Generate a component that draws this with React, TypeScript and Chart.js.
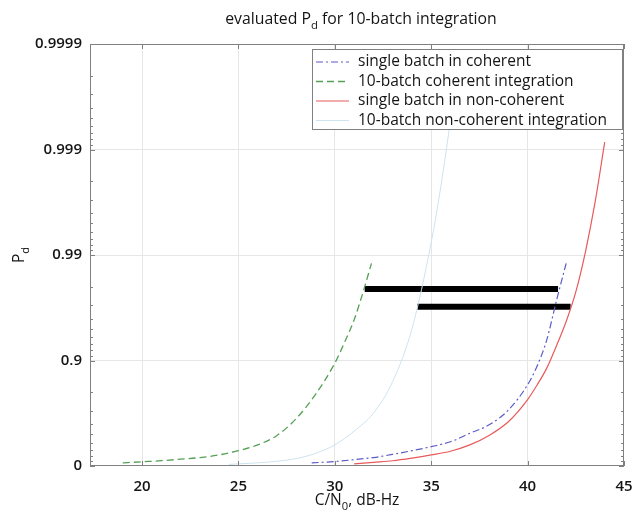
import React, { useEffect, useRef } from 'react';
import { Chart, registerables } from 'chart.js';

Chart.register(...registerables);

// ---- axis ticks ----
const xTicks = [20, 25, 30, 35, 40, 45];
const xMin = 17.3;
const xMax = 45;
const yTickValues = [0, 0.9, 0.99, 0.999, 0.9999];
const yTickLabels = ['0', '0.9', '0.99', '0.999', '0.9999'];

// ---- series (C/N0 in dB-Hz, Pd) ----
const seriesNames = [
  'single batch in coherent',
  '10-batch coherent integration',
  'single batch in non-coherent',
  '10-batch non-coherent integration',
];

const coh1X = [28.8, 30, 31, 32, 33, 34, 35, 36, 37, 38, 39, 40, 40.5, 41, 41.5, 42];
const coh1Pd = [0.0667, 0.0922, 0.129, 0.1682, 0.2238, 0.2839, 0.3439, 0.4112, 0.5102, 0.5926, 0.7049, 0.8302, 0.8878, 0.9369, 0.9731, 0.988];

const coh10X = [19, 20, 21, 22, 23, 24, 25, 26, 27, 28, 29, 30, 30.5, 31, 31.5, 31.9];
const coh10Pd = [0.067, 0.088, 0.109, 0.139, 0.168, 0.215, 0.284, 0.369, 0.487, 0.645, 0.791, 0.894, 0.9324, 0.9588, 0.9786, 0.988];

const nc1X = [31, 32, 33, 34, 35, 36, 37, 38, 39, 40, 40.5, 41, 41.5, 42, 42.5, 43, 43.5, 44];
const nc1Pd = [0.045, 0.0775, 0.1087, 0.1586, 0.2147, 0.2756, 0.369, 0.4871, 0.6198, 0.7656, 0.8302, 0.8825, 0.9276, 0.9573, 0.9776, 0.99067, 0.99684, 0.99915];

const nc10X = [24.5, 25, 26, 27, 28, 29, 30, 31, 32, 33, 34, 35, 35.5, 35.9, 36.3];
const nc10Pd = [0.0339, 0.045, 0.0667, 0.0984, 0.1489, 0.2414, 0.369, 0.5323, 0.6838, 0.8415, 0.9499, 0.99241, 0.99776, 0.99929, 0.9998];

// ---- gain bars ----
const barPd = [0.979, 0.969];
const barFromX = [31.55, 34.28];
const barToX = [41.58, 42.23];

const FONT = '"Open Sans", "Liberation Sans", sans-serif';
const TEXT = '#151515';

const toQ = (p: number) => -Math.log10(1 - p);
const pts = (xs: number[], ps: number[]) => xs.map((x, i) => ({ x, y: toQ(ps[i]) }));

function drawSubText(
  ctx: CanvasRenderingContext2D,
  parts: [string, boolean][],
  cx: number,
  baseY: number,
  size: number,
  weight = 'normal'
) {
  const subSize = size * 0.72;
  let total = 0;
  for (const [t, sub] of parts) {
    ctx.font = `${weight} ${sub ? subSize : size}px ${FONT}`;
    total += ctx.measureText(t).width;
  }
  let x = cx - total / 2;
  ctx.textAlign = 'left';
  ctx.textBaseline = 'alphabetic';
  for (const [t, sub] of parts) {
    ctx.font = `${weight} ${sub ? subSize : size}px ${FONT}`;
    ctx.fillText(t, x, baseY + (sub ? size * 0.33 : 0));
    x += ctx.measureText(t).width;
  }
}

const framePlugin = {
  id: 'frame',
  afterDatasetsDraw(chart: any) {
    const { ctx, chartArea } = chart;
    const { left, right, top, bottom } = chartArea;
    const xs = chart.scales.x;
    const ys = chart.scales.y;
    ctx.save();
    ctx.strokeStyle = '#808080';
    ctx.lineWidth = 1;
    ctx.strokeRect(left + 0.5, top + 0.5, right - left - 1, bottom - top - 1);
    ctx.beginPath();
    for (const v of xTicks) {
      const p = Math.round(xs.getPixelForValue(v)) + 0.5;
      ctx.moveTo(p, bottom);
      ctx.lineTo(p, bottom - 5);
      ctx.moveTo(p, top);
      ctx.lineTo(p, top + 5);
    }
    const qMajor = yTickValues.map(toQ);
    for (let d = 0; d < qMajor.length; d++) {
      const p = Math.round(ys.getPixelForValue(qMajor[d])) + 0.5;
      ctx.moveTo(left, p);
      ctx.lineTo(left + 5, p);
      ctx.moveTo(right, p);
      ctx.lineTo(right - 5, p);
      if (d < qMajor.length - 1) {
        for (let k = 1; k <= 8; k++) {
          const q = qMajor[d] - Math.log10(1 - k / 10);
          const pm = Math.round(ys.getPixelForValue(q)) + 0.5;
          ctx.moveTo(left, pm);
          ctx.lineTo(left + 3, pm);
          ctx.moveTo(right, pm);
          ctx.lineTo(right - 3, pm);
        }
      }
    }
    ctx.stroke();
    ctx.restore();
  },
};

const textPlugin = {
  id: 'texts',
  afterDraw(chart: any) {
    const { ctx, chartArea } = chart;
    const cx = (chartArea.left + chartArea.right) / 2;
    ctx.save();
    ctx.fillStyle = TEXT;
    drawSubText(ctx, [['evaluated P', false], ['d', true], [' for 10-batch integration', false]], cx + 4, 24, 15.8);
    drawSubText(ctx, [['C/N', false], ['0', true], [', dB-Hz', false]], cx, 505, 15.5, '500');
    ctx.translate(24, (chartArea.top + chartArea.bottom) / 2);
    ctx.rotate(-Math.PI / 2);
    drawSubText(ctx, [['P', false], ['d', true]], 0, 0, 15.5, '500');
    ctx.restore();

    // legend box
    const n = seriesNames.length;
    const bx = 312, by = 49, bw = 310, bh = 80;
    ctx.save();
    ctx.fillStyle = '#ffffff';
    ctx.fillRect(bx, by, bw, bh);
    ctx.strokeStyle = '#808080';
    ctx.lineWidth = 1;
    ctx.strokeRect(bx + 0.5, by + 0.5, bw, bh);
    for (let i = 0; i < n; i++) {
      const ds = chart.data.datasets[i];
      const yy = by + 13 + i * 19.5;
      ctx.beginPath();
      ctx.setLineDash(ds.borderDash || []);
      ctx.strokeStyle = ds.borderColor;
      ctx.lineWidth = ds.borderWidth;
      ctx.moveTo(316, yy);
      ctx.lineTo(349, yy);
      ctx.stroke();
      ctx.setLineDash([]);
      ctx.fillStyle = TEXT;
      ctx.font = `500 15.5px ${FONT}`;
      ctx.textAlign = 'left';
      ctx.textBaseline = 'middle';
      ctx.fillText(ds.label, 358, yy);
    }
    ctx.restore();
  },
};

export default function App() {
  const ref = useRef<HTMLCanvasElement>(null);
  useEffect(() => {
    let chart: Chart | null = null;
    let cancelled = false;
    const make = () => {
      if (cancelled || !ref.current) return;
      const curve = (label: string, data: any[], color: string, dash: number[], width: number) => ({
        label,
        data,
        borderColor: color,
        backgroundColor: color,
        borderDash: dash,
        borderWidth: width,
        showLine: true,
        pointRadius: 0,
        cubicInterpolationMode: 'monotone' as const,
        fill: false,
      });
      const bars = barPd.map((p, i) => ({
        label: 'bar' + i,
        data: [
          { x: barFromX[i], y: toQ(p) },
          { x: barToX[i], y: toQ(p) },
        ],
        borderColor: '#000000',
        backgroundColor: '#000000',
        borderWidth: 6,
        borderCapStyle: 'butt' as const,
        showLine: true,
        pointRadius: 0,
        fill: false,
      }));
      chart = new Chart(ref.current, {
        type: 'scatter',
        data: {
          datasets: [
            curve(seriesNames[0], pts(coh1X, coh1Pd), '#5b5bc8', [7, 3, 2, 3], 1.2),
            curve(seriesNames[1], pts(coh10X, coh10Pd), '#55a055', [7, 4], 1.3),
            curve(seriesNames[2], pts(nc1X, nc1Pd), '#e85a5a', [], 1.2),
            curve(seriesNames[3], pts(nc10X, nc10Pd), '#cde3ef', [], 1),
            ...bars,
          ],
        },
        options: {
          animation: false,
          responsive: false,
          devicePixelRatio: 1,
          layout: { padding: { top: 44, left: 0, right: 12, bottom: 0 } },
          plugins: {
            legend: { display: false },
            title: { display: false },
            tooltip: { enabled: false },
          },
          scales: {
            x: {
              type: 'linear',
              min: xMin,
              max: xMax,
              afterBuildTicks: (s: any) => {
                s.ticks = xTicks.map((v) => ({ value: v }));
              },
              afterFit: (s: any) => {
                s.height = 46;
                s.paddingLeft = 0;
                s.paddingRight = 0;
              },
              border: { display: false },
              grid: {
                drawTicks: false,
                color: (c: any) =>
                  c.tick && c.tick.value > xMin && c.tick.value < xMax ? '#e6e6e6' : 'rgba(0,0,0,0)',
              },
              ticks: {
                autoSkip: false,
                maxRotation: 0,
                padding: 12,
                color: TEXT,
                font: { family: FONT, size: 15, weight: '600' },
                callback: (v: any) => String(v),
              },
            },
            y: {
              type: 'linear',
              min: toQ(yTickValues[0]),
              max: toQ(yTickValues[yTickValues.length - 1]),
              afterBuildTicks: (s: any) => {
                s.ticks = yTickValues.map((v) => ({ value: toQ(v) }));
              },
              afterFit: (s: any) => {
                s.width = 90;
                s.paddingTop = 0;
                s.paddingBottom = 0;
              },
              border: { display: false },
              grid: {
                drawTicks: false,
                color: (c: any) => {
                  if (!c.tick) return 'rgba(0,0,0,0)';
                  const i = c.index;
                  return i > 0 && i < yTickValues.length - 1 ? '#e6e6e6' : 'rgba(0,0,0,0)';
                },
              },
              ticks: {
                autoSkip: false,
                padding: 8,
                color: TEXT,
                font: { family: FONT, size: 15, weight: '600' },
                callback: (_v: any, i: number) => yTickLabels[i],
              },
            },
          },
        },
        plugins: [framePlugin, textPlugin],
      });
    };
    const f: any = (document as any).fonts;
    if (f && f.load) {
      Promise.all([
        f.load(`15px "Open Sans"`),
        f.load(`600 15px "Open Sans"`),
        f.load(`500 15px "Open Sans"`),
      ]).then(make, make);
    } else make();
    return () => {
      cancelled = true;
      if (chart) chart.destroy();
    };
  }, []);
  return (
    <div style={{ position: 'fixed', left: 0, top: 0, width: 636, height: 512, background: '#ffffff' }}>
      <canvas ref={ref} width={636} height={512} style={{ display: 'block', width: 636, height: 512 }} />
    </div>
  );
}
